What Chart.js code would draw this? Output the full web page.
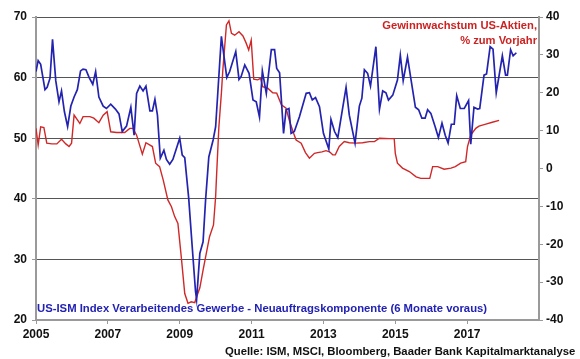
<!DOCTYPE html>
<html>
<head>
<meta charset="utf-8">
<script src="https://cdn.jsdelivr.net/npm/chart.js@4.4.1/dist/chart.umd.min.js"></script>
<style>
  html, body { margin: 0; padding: 0; background: #fff; }
  #wrap { position: relative; width: 580px; height: 359px; }
  .lbl { position: absolute; font-family: "Liberation Sans", Arial, sans-serif; font-weight: bold; white-space: nowrap; }
  #redLbl { right: 43px; top: 18px; color: #cc2222; font-size: 11.2px; text-align: right; line-height: 15px; }
  #blueLbl { left: 37px; top: 302px; color: #2222b4; font-size: 11.3px; }
  #srcLbl { left: 225px; top: 345px; color: #111; font-size: 11.3px; }
</style>
</head>
<body>
<div id="wrap">
  <canvas id="chart" width="580" height="359"></canvas>
  <div class="lbl" id="redLbl">Gewinnwachstum US-Aktien,<br>% zum Vorjahr</div>
  <div class="lbl" id="blueLbl">US-ISM Index Verarbeitendes Gewerbe - Neuauftragskomponente (6 Monate voraus)</div>
  <div class="lbl" id="srcLbl">Quelle: ISM, MSCI, Bloomberg, Baader Bank Kapitalmarktanalyse</div>
</div>
<script>
// ISM Neuauftragskomponente, 6 Monate voraus (linke Achse)
const ismDates = [
  2005.00, 2005.06, 2005.13, 2005.25, 2005.31, 2005.39, 2005.46, 2005.55, 2005.64, 2005.71,
  2005.79, 2005.88, 2005.97, 2006.06, 2006.15, 2006.24, 2006.31, 2006.39, 2006.48, 2006.58,
  2006.66, 2006.75, 2006.87, 2006.96, 2007.08, 2007.21, 2007.31, 2007.40, 2007.52, 2007.64,
  2007.73, 2007.80, 2007.89, 2007.98, 2008.06, 2008.17, 2008.24, 2008.31, 2008.38, 2008.46,
  2008.56, 2008.63, 2008.72, 2008.81, 2009.00, 2009.07, 2009.14, 2009.25, 2009.34, 2009.44,
  2009.47, 2009.56, 2009.65, 2009.72, 2009.81, 2009.93, 2010.00, 2010.16, 2010.31, 2010.39,
  2010.56, 2010.65, 2010.71, 2010.81, 2010.93, 2011.04, 2011.13, 2011.22, 2011.30, 2011.41,
  2011.55, 2011.64, 2011.70, 2011.78, 2011.89, 2011.96, 2012.04, 2012.10, 2012.19, 2012.33,
  2012.52, 2012.61, 2012.69, 2012.78, 2012.89, 2013.00, 2013.15, 2013.21, 2013.31, 2013.40,
  2013.63, 2013.72, 2013.88, 2014.00, 2014.07, 2014.14, 2014.23, 2014.31, 2014.46, 2014.56,
  2014.65, 2014.74, 2014.81, 2014.93, 2015.06, 2015.14, 2015.22, 2015.34, 2015.44, 2015.56,
  2015.65, 2015.74, 2015.83, 2015.90, 2015.99, 2016.11, 2016.20, 2016.30, 2016.39, 2016.47,
  2016.56, 2016.64, 2016.71, 2016.81, 2016.92, 2017.04, 2017.10, 2017.19, 2017.29, 2017.35,
  2017.47, 2017.54, 2017.64, 2017.72, 2017.81, 2017.98, 2018.07, 2018.12, 2018.21, 2018.28,
  2018.37
];
const ismValues = [
  61.0, 62.8, 62.2, 58.0, 58.4, 59.9, 66.3, 59.5, 56.0, 57.8,
  54.4, 51.9, 55.3, 56.8, 58.0, 61.1, 61.4, 61.3, 60.0, 58.9,
  61.0, 56.8, 55.3, 54.9, 55.6, 54.8, 54.0, 51.1, 52.0, 55.1,
  50.5, 57.4, 58.6, 57.8, 58.6, 54.5, 54.5, 56.4, 53.8, 46.7,
  48.0, 46.5, 45.7, 46.5, 50.0, 47.2, 46.8, 40.1, 32.7, 24.7,
  23.4, 31.0, 32.9, 39.8, 46.9, 49.7, 51.9, 66.8, 60.0, 61.0,
  64.3, 59.7, 60.2, 62.1, 60.7, 56.3, 56.0, 53.5, 61.1, 57.4,
  64.6, 64.6, 61.5, 60.8, 50.8, 54.7, 54.9, 50.8, 51.1, 53.5,
  57.4, 57.5, 56.3, 56.7, 55.2, 50.8, 48.2, 53.1, 51.1, 50.1,
  58.4, 53.8, 49.2, 55.3, 56.6, 61.3, 60.7, 58.6, 65.1, 54.8,
  57.8, 57.5, 56.3, 57.1, 59.6, 63.7, 59.5, 63.4, 59.6, 55.1,
  54.7, 53.3, 53.3, 54.7, 54.1, 51.9, 50.1, 52.5, 50.5, 49.2,
  52.3, 52.3, 57.0, 54.9, 54.9, 56.2, 49.0, 55.1, 54.8, 54.9,
  60.4, 60.6, 65.1, 64.7, 57.5, 63.6, 60.4, 60.4, 64.6, 63.6,
  64.1
];

// Gewinnwachstum US-Aktien, % zum Vorjahr (rechte Achse)
const earnDates = [
  2005.00, 2005.06, 2005.13, 2005.22, 2005.30, 2005.44, 2005.58, 2005.71, 2005.83, 2005.92,
  2005.99, 2006.06, 2006.22, 2006.31, 2006.50, 2006.61, 2006.75, 2006.87, 2006.98, 2007.08,
  2007.24, 2007.47, 2007.61, 2007.70, 2007.80, 2007.96, 2008.06, 2008.24, 2008.33, 2008.44,
  2008.54, 2008.67, 2008.77, 2008.86, 2008.95, 2009.05, 2009.14, 2009.23, 2009.32, 2009.42,
  2009.46, 2009.56, 2009.65, 2009.83, 2009.94, 2010.00, 2010.02, 2010.09, 2010.16, 2010.20,
  2010.30, 2010.37, 2010.44, 2010.53, 2010.65, 2010.76, 2010.85, 2010.92, 2010.99, 2011.06,
  2011.17, 2011.25, 2011.31, 2011.45, 2011.59, 2011.70, 2011.83, 2011.96, 2012.06, 2012.17,
  2012.24, 2012.38, 2012.50, 2012.61, 2012.75, 2012.84, 2012.96, 2013.07, 2013.17, 2013.26,
  2013.33, 2013.44, 2013.58, 2013.72, 2013.91, 2014.09, 2014.28, 2014.42, 2014.56, 2014.83,
  2014.97, 2015.00, 2015.06, 2015.20, 2015.39, 2015.58, 2015.71, 2015.96, 2016.04, 2016.18,
  2016.36, 2016.55, 2016.67, 2016.82, 2016.96, 2017.01, 2017.10, 2017.24, 2017.33, 2017.52,
  2017.70, 2017.89
];
const earnValues = [
  10.6, 6.2, 11.0, 10.8, 6.7, 6.5, 6.5, 7.7, 6.5, 5.8,
  6.7, 14.1, 11.9, 13.7, 13.7, 13.3, 12.1, 14.1, 15.0, 9.7,
  9.5, 9.5, 10.6, 10.6, 8.8, 3.8, 6.8, 5.8, 1.4, 0.5,
  -3.0, -8.3, -10.1, -12.7, -14.5, -24.0, -33.0, -35.6, -35.2, -35.4,
  -34.2, -31.5, -26.8, -18.0, -14.9, -7.4, -3.0, 11.0, 19.9, 26.0,
  37.9, 39.0, 35.7, 35.2, 36.1, 35.0, 33.1, 31.3, 33.9, 23.6,
  23.4, 23.8, 21.6, 21.2, 20.0, 19.9, 16.8, 15.9, 12.4, 9.3,
  7.5, 6.7, 4.2, 2.7, 4.0, 4.2, 4.4, 4.7, 4.4, 3.6,
  3.6, 5.8, 7.1, 6.8, 6.7, 6.8, 7.1, 7.1, 8.0, 7.9,
  7.9, 4.0, 1.4, 0.1, -0.8, -2.2, -2.6, -2.6, 0.5, 0.5,
  -0.2, 0.1, 0.5, 1.4, 1.8, 5.8, 8.8, 10.6, 11.2, 11.7,
  12.2, 12.7
];

const yearTicks = [2005, 2007, 2009, 2011, 2013, 2015, 2017];

Chart.defaults.font.family = '"Liberation Sans", Arial, sans-serif';
Chart.defaults.font.size = 12;
Chart.defaults.font.weight = 'bold';
Chart.defaults.color = '#111';

const ctx = document.getElementById('chart').getContext('2d');

const chart = new Chart(ctx, {
  type: 'line',
  data: {
    datasets: [
      {
        label: 'US-ISM Index',
        data: ismDates.map((d, i) => ({ x: d, y: ismValues[i] })),
        yAxisID: 'y',
        borderColor: '#2323b0',
        borderWidth: 1.7,
        pointRadius: 0,
        tension: 0,
        order: 1
      },
      {
        label: 'Gewinnwachstum',
        data: earnDates.map((d, i) => ({ x: d, y: earnValues[i] })),
        yAxisID: 'y1',
        borderColor: '#d02828',
        borderWidth: 1.4,
        pointRadius: 0,
        tension: 0,
        order: 2
      }
    ]
  },
  options: {
    responsive: false,
    animation: false,
    layout: { padding: { top: 17, left: 0, right: 0, bottom: 0 } },
    plugins: {
      legend: { display: false },
      tooltip: { enabled: false }
    },
    scales: {
      x: {
        type: 'linear',
        min: 2005,
        max: 2019,
        afterBuildTicks: scale => { scale.ticks = yearTicks.map(v => ({ value: v })); },
        afterFit: scale => { scale.height = 39; },
        ticks: {
          padding: 3,
          maxRotation: 0,
          autoSkip: false,
          callback: v => String(v)
        },
        grid: { drawOnChartArea: false, tickLength: 4, color: '#999' },
        border: { color: '#9a9a9a', width: 2 }
      },
      y: {
        position: 'left',
        min: 20,
        max: 70,
        afterFit: scale => { scale.width = 36; },
        ticks: { stepSize: 10, padding: 5 },
        grid: { color: '#555', tickColor: '#999', tickLength: 4 },
        border: { color: '#9a9a9a', width: 2 }
      },
      y1: {
        position: 'right',
        min: -40,
        max: 40,
        afterFit: scale => { scale.width = 41; },
        ticks: { stepSize: 10, padding: 3 },
        grid: { drawOnChartArea: false, color: '#999', tickLength: 4 },
        border: { color: '#9a9a9a', width: 2 }
      }
    }
  }
});
</script>
</body>
</html>
